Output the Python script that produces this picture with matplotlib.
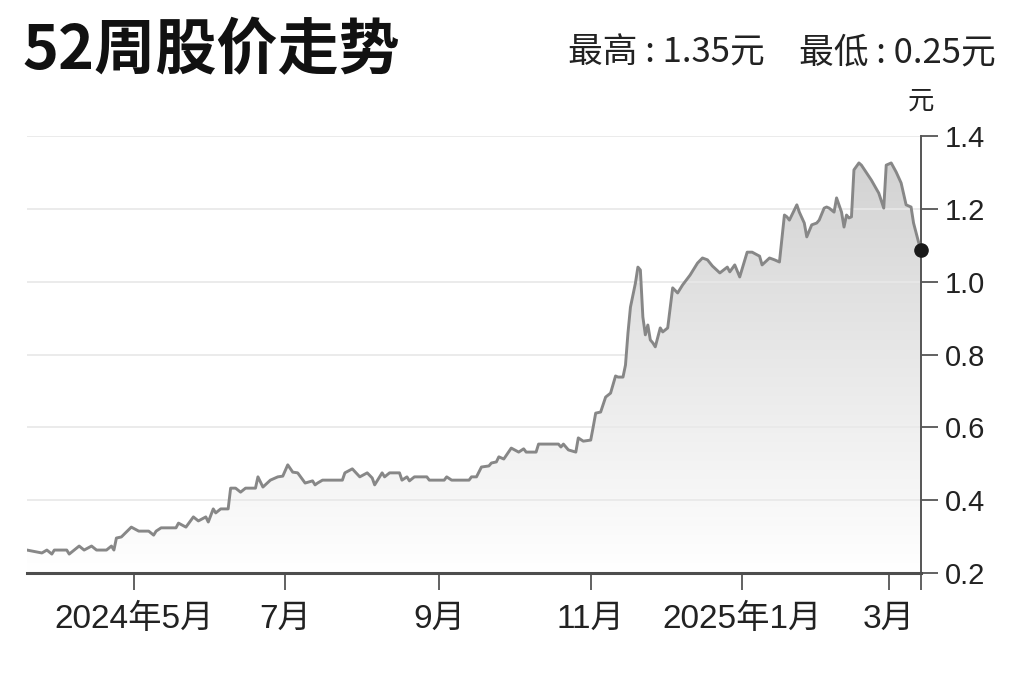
import numpy as np
import pandas as pd
import matplotlib
matplotlib.use("Agg")
import matplotlib.pyplot as plt
import matplotlib.dates as mdates
from matplotlib.colors import LinearSegmentedColormap

# 52-week closing prices
dates = [
    "2024-03-19", "2024-03-25", "2024-03-27", "2024-03-29", "2024-03-30",
    "2024-04-04", "2024-04-05", "2024-04-09", "2024-04-11", "2024-04-14",
    "2024-04-16", "2024-04-20", "2024-04-22", "2024-04-23", "2024-04-24",
    "2024-04-26", "2024-04-30", "2024-05-03", "2024-05-07", "2024-05-09",
    "2024-05-10", "2024-05-12", "2024-05-18", "2024-05-19", "2024-05-22",
    "2024-05-25", "2024-05-27", "2024-05-30", "2024-05-31", "2024-06-02",
    "2024-06-03", "2024-06-05", "2024-06-08", "2024-06-09", "2024-06-11",
    "2024-06-13", "2024-06-15", "2024-06-19", "2024-06-20", "2024-06-22",
    "2024-06-25", "2024-06-28", "2024-06-30", "2024-07-02", "2024-07-04",
    "2024-07-06", "2024-07-09", "2024-07-12", "2024-07-13", "2024-07-14",
    "2024-07-16", "2024-07-24", "2024-07-25", "2024-07-28", "2024-07-31",
    "2024-08-03", "2024-08-05", "2024-08-06", "2024-08-09", "2024-08-10",
    "2024-08-12", "2024-08-16", "2024-08-17", "2024-08-19", "2024-08-20",
    "2024-08-22", "2024-08-27", "2024-08-28", "2024-09-03", "2024-09-04",
    "2024-09-06", "2024-09-13", "2024-09-14", "2024-09-16", "2024-09-18",
    "2024-09-21", "2024-09-22", "2024-09-24", "2024-09-25", "2024-09-27",
    "2024-09-30", "2024-10-03", "2024-10-05", "2024-10-06", "2024-10-10",
    "2024-10-11", "2024-10-19", "2024-10-20", "2024-10-21", "2024-10-23",
    "2024-10-26", "2024-10-27", "2024-10-29", "2024-11-01", "2024-11-02",
    "2024-11-03", "2024-11-05", "2024-11-07", "2024-11-09", "2024-11-11",
    "2024-11-12", "2024-11-14", "2024-11-15", "2024-11-16", "2024-11-17",
    "2024-11-19", "2024-11-20", "2024-11-21", "2024-11-22", "2024-11-23",
    "2024-11-24", "2024-11-25", "2024-11-26", "2024-11-27", "2024-11-29",
    "2024-11-30", "2024-12-02", "2024-12-04", "2024-12-06", "2024-12-08",
    "2024-12-11", "2024-12-14", "2024-12-16", "2024-12-18", "2024-12-20",
    "2024-12-23", "2024-12-26", "2024-12-27", "2024-12-29", "2024-12-31",
    "2025-01-03", "2025-01-05", "2025-01-08", "2025-01-09", "2025-01-12",
    "2025-01-14", "2025-01-16", "2025-01-18", "2025-01-19", "2025-01-20",
    "2025-01-23", "2025-01-24", "2025-01-26", "2025-01-27", "2025-01-29",
    "2025-01-31", "2025-02-01", "2025-02-03", "2025-02-04", "2025-02-05",
    "2025-02-07", "2025-02-08", "2025-02-10", "2025-02-11", "2025-02-12",
    "2025-02-13", "2025-02-14", "2025-02-15", "2025-02-17", "2025-02-18",
    "2025-02-22", "2025-02-25", "2025-02-27", "2025-02-28", "2025-03-02",
    "2025-03-04", "2025-03-06", "2025-03-08", "2025-03-10", "2025-03-11",
    "2025-03-13", "2025-03-14",
]
prices = [
    0.263, 0.255, 0.263, 0.252, 0.263,
    0.263, 0.252, 0.274, 0.263, 0.274,
    0.263, 0.263, 0.274, 0.263, 0.296,
    0.299, 0.326, 0.315, 0.315, 0.304,
    0.315, 0.324, 0.324, 0.337, 0.326,
    0.354, 0.343, 0.354, 0.340, 0.376,
    0.365, 0.376, 0.376, 0.433, 0.433,
    0.422, 0.433, 0.433, 0.464, 0.436,
    0.455, 0.464, 0.466, 0.497, 0.477,
    0.475, 0.447, 0.453, 0.442, 0.447,
    0.455, 0.455, 0.475, 0.486, 0.464,
    0.475, 0.461, 0.442, 0.475, 0.464,
    0.475, 0.475, 0.455, 0.464, 0.453,
    0.464, 0.464, 0.455, 0.455, 0.464,
    0.455, 0.455, 0.464, 0.464, 0.491,
    0.494, 0.502, 0.505, 0.519, 0.513,
    0.543, 0.532, 0.541, 0.532, 0.532,
    0.554, 0.554, 0.546, 0.554, 0.538,
    0.532, 0.571, 0.562, 0.565, 0.601,
    0.639, 0.642, 0.683, 0.694, 0.741,
    0.738, 0.738, 0.771, 0.859, 0.930,
    0.996, 1.040, 1.032, 0.903, 0.854,
    0.881, 0.840, 0.832, 0.821, 0.873,
    0.862, 0.873, 0.983, 0.969, 0.991,
    1.018, 1.051, 1.065, 1.060, 1.043,
    1.024, 1.040, 1.027, 1.046, 1.013,
    1.081, 1.081, 1.070, 1.046, 1.065,
    1.060, 1.054, 1.183, 1.178, 1.169,
    1.211, 1.191, 1.161, 1.123, 1.156,
    1.161, 1.169, 1.202, 1.205, 1.202,
    1.191, 1.230, 1.191, 1.150, 1.183,
    1.175, 1.178, 1.307, 1.326, 1.320,
    1.279, 1.243, 1.202, 1.320, 1.326,
    1.301, 1.271, 1.211, 1.205, 1.161,
    1.109, 1.087,
]

title = "52周股价走势"
high_text = "最高 : 1.35元"
low_text = "最低 : 0.25元"
unit = "元"
yticks = [0.2, 0.4, 0.6, 0.8, 1.0, 1.2, 1.4]
ytick_labels = ["0.2", "0.4", "0.6", "0.8", "1.0", "1.2", "1.4"]
xtick_dates = ["2024-05-01", "2024-07-01", "2024-09-01", "2024-11-01", "2025-01-01", "2025-03-01"]
xtick_labels = ["2024年5月", "7月", "9月", "11月", "2025年1月", "3月"]

plt.rcParams['font.family'] = ['Liberation Sans', 'Noto Sans CJK SC']
cjk = ['Noto Sans CJK SC', 'DejaVu Sans']

x = pd.to_datetime(dates)
y = np.array(prices)

fig = plt.figure(figsize=(10.24, 6.82), dpi=100)
ax = fig.add_axes([27 / 1024, 1 - 573 / 682, (921 - 27) / 1024, (573 - 136) / 682])

ax.plot(x, y, color='#878787', lw=2.1, zorder=4, solid_joinstyle='round')

# gradient fill under the line
poly = ax.fill_between(x, y, 0.2, color='none', lw=0)
cmap = LinearSegmentedColormap.from_list('fade', ['#ffffff', '#d2d2d2'])
grad = np.linspace(0, 1, 256).reshape(-1, 1)
x0, x1 = mdates.date2num(x[0]), mdates.date2num(x[-1])
im = ax.imshow(grad, cmap=cmap, aspect='auto', origin='lower',
               extent=[x0, x1, 0.2, 1.35], zorder=1, interpolation='bilinear')
im.set_clip_path(poly.get_paths()[0], transform=ax.transData)

ax.plot(x[-1], y[-1], 'o', ms=9.5, color='#1a1a1a', zorder=6, clip_on=False)

ax.set_xlim(x[0], x[-1])
ax.set_ylim(0.2, 1.4)

ax.spines['top'].set_visible(False)
ax.spines['left'].set_visible(False)
ax.spines['right'].set_color('#555555')
ax.spines['right'].set_linewidth(1.4)
ax.spines['bottom'].set_color('#4d4d4d')
ax.spines['bottom'].set_linewidth(2.2)

ax.yaxis.tick_right()
ax.set_yticks(yticks)
ax.set_yticklabels(ytick_labels)
ax.tick_params(axis='y', length=12, width=1.3, color='#555555', pad=5,
               labelsize=21, labelcolor='#222222')
ax.grid(axis='y', color='#e8e8e8', lw=1.2, zorder=2)

ax.set_xticks(list(pd.to_datetime(xtick_dates)) + [x[-1]])
ax.set_xticklabels(xtick_labels + [""])
ax.tick_params(axis='x', length=12, width=1.3, color='#555555', pad=10,
               labelsize=24, labelcolor='#222222')

fig.text(22 / 1024, 1 - 69 / 682, title, fontsize=44, fontweight='bold',
         family=cjk, va='baseline', color='#111111')
fig.text(568 / 1024, 1 - 62 / 682, high_text, fontsize=25, family=cjk,
         va='baseline', color='#222222')
fig.text(996 / 1024, 1 - 62 / 682, low_text, fontsize=25, family=cjk,
         va='baseline', ha='right', color='#222222')
fig.text(921 / 1024, 1 - 101 / 682, unit, fontsize=19, family=cjk,
         va='center', ha='center', color='#222222')

plt.savefig("out.png", dpi=100)
